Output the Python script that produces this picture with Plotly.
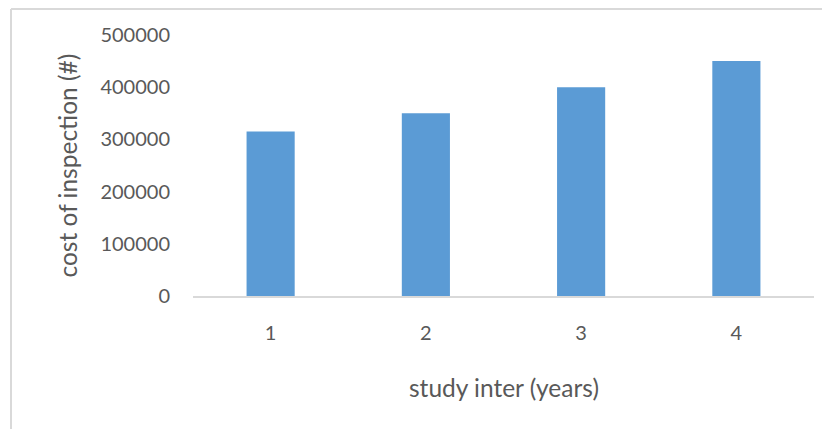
import plotly.graph_objects as go

categories = ["1", "2", "3", "4"]
cost_values = [315000, 350000, 400000, 450000]
y_tick_values = [0, 100000, 200000, 300000, 400000, 500000]
y_tick_labels = ["0", "100000", "200000", "300000", "400000", "500000"]
x_title = "study inter (years)"
y_title = "cost of inspection (#)"

# page body has an 8px margin, so the figure is sized to fill the rest of the window
OFF = 8
W, H = 830 - OFF, 429 - OFF
L, R, T, B = 193 - OFF, 16, 35 - OFF, 133
pw = W - L - R
ph = H - T - B

fig = go.Figure(go.Bar(x=categories, y=cost_values, marker=dict(color="#5B9BD5", line=dict(width=0))))

font_fam = "Lato, 'Open Sans', sans-serif"
txt = "#595959"

fig.update_layout(
    width=W, height=H,
    margin=dict(l=L, r=R, t=T, b=B),
    paper_bgcolor="white", plot_bgcolor="white",
    bargap=0.69,
    showlegend=False,
    font=dict(family=font_fam, size=20, color=txt),
    xaxis=dict(type="category", showline=True, linecolor="#D9D9D9", linewidth=2,
               showgrid=False, ticks="", ticklabelstandoff=18,
               tickfont=dict(size=20, color=txt)),
    yaxis=dict(range=[0, 500000], tickvals=y_tick_values, ticktext=y_tick_labels,
               showgrid=False, zeroline=False, showline=False, ticks="",
               ticklabelstandoff=22, tickfont=dict(size=20, color=txt)),
    annotations=[
        dict(text=y_title, xref="paper", yref="paper", x=(67 - 193) / pw, y=0.5,
             xanchor="center", yanchor="middle", textangle=-90, showarrow=False,
             font=dict(size=24.5, color=txt, family=font_fam)),
        dict(text=x_title, xref="paper", yref="paper", x=0.5, y=(296 - 388) / ph,
             xanchor="center", yanchor="middle", showarrow=False,
             font=dict(size=24.5, color=txt, family=font_fam)),
    ],
    shapes=[
        dict(type="line", xref="paper", yref="paper", x0=(3 - L) / pw, x1=(W + 5 - L) / pw,
             y0=(H - B - 1) / ph, y1=(H - B - 1) / ph, line=dict(color="#D9D9D9", width=2)),
        dict(type="line", xref="paper", yref="paper", x0=(3 - L) / pw, x1=(3 - L) / pw,
             y0=(H - B - 1) / ph, y1=(H - B - H - 5) / ph, line=dict(color="#D9D9D9", width=2)),
    ],
)

fig.write_html("out.html")
